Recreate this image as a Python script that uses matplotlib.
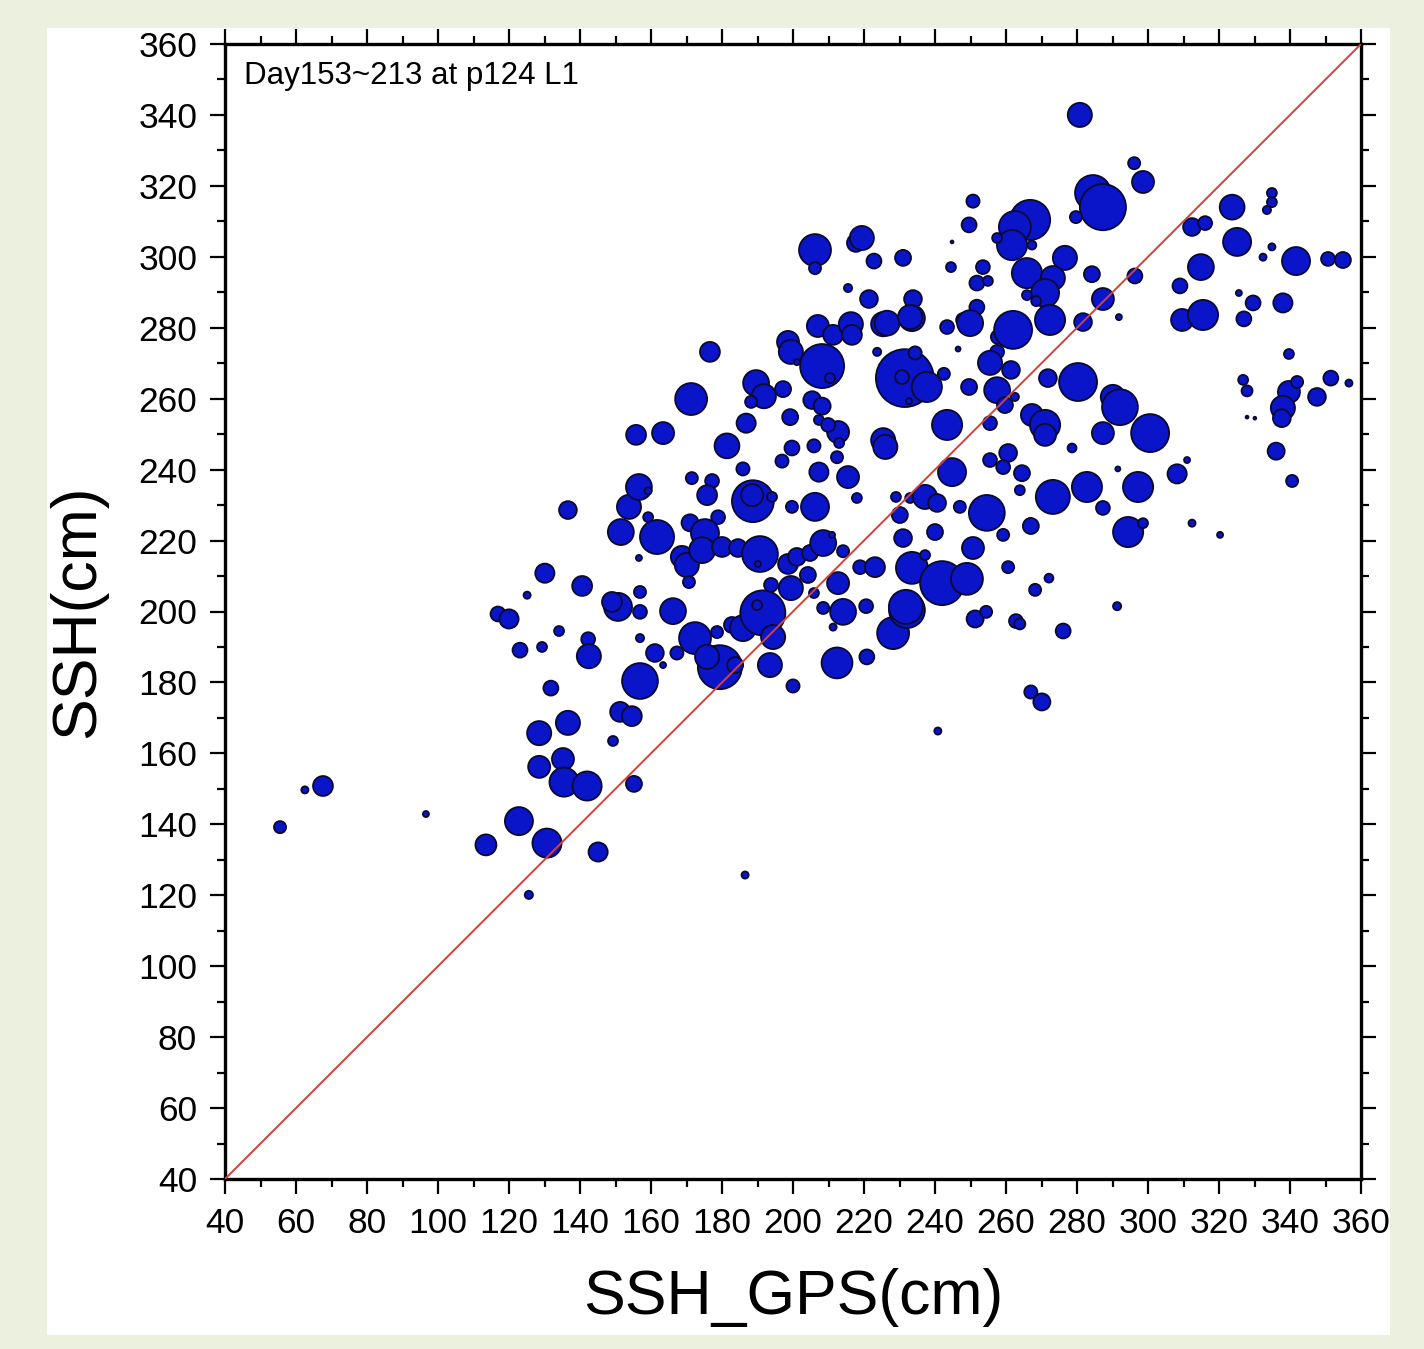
import numpy as np
import matplotlib
matplotlib.use('Agg')
import matplotlib.pyplot as plt
from matplotlib.patches import Rectangle
from matplotlib.ticker import MultipleLocator

plt.rcParams['font.family'] = ['Liberation Sans', 'DejaVu Sans']

# SSH from GPS (cm), model SSH (cm), bubble diameter (cm, in data units)
ssh_gps = [
    55.5, 62.5, 67.6, 96.6, 113.5, 122.8, 130.7, 145.1, 125.6, 186.5,
    116.9, 120.0, 125.1, 130.1, 140.6, 134.1, 142.3, 142.5, 123.1, 129.3,
    131.8, 136.6, 128.5, 149.3, 135.2, 128.5, 135.5, 142.0, 155.2, 136.6,
    151.3, 154.6, 156.9, 150.7, 149.0, 156.9, 156.9, 166.2, 156.9, 161.1,
    167.3, 163.4, 172.4, 178.6, 182.8, 185.9, 191.5, 194.4, 189.9, 179.4,
    175.8, 183.7, 193.5, 200.0, 212.4, 220.8, 228.2, 232.1, 208.5, 214.1,
    220.6, 211.3, 151.5, 159.2, 153.8, 156.6, 159.2, 161.7, 171.0, 178.9,
    175.2, 168.7, 170.1, 174.4, 180.0, 184.5, 190.7, 190.1, 198.6, 201.1,
    204.8, 208.5, 211.0, 214.1, 156.6, 170.7, 193.8, 199.4, 204.2, 205.9,
    218.9, 223.1, 212.7, 188.7, 188.5, 194.1, 199.7, 206.2, 229.0, 171.5,
    177.2, 175.8, 185.9, 196.9, 207.3, 215.5, 218.0, 155.8, 163.4, 181.4,
    186.8, 199.7, 205.9, 212.7, 213.0, 212.4, 225.4, 226.0, 171.3, 189.6,
    191.8, 197.2, 188.2, 205.4, 208.2, 199.2, 207.3, 209.9, 176.6, 198.6,
    199.4, 201.1, 208.2, 210.4, 207.0, 211.3, 216.3, 216.6, 225.4, 223.7,
    206.2, 206.2, 217.7, 219.4, 222.8, 215.5, 221.4, 231.0, 244.8, 244.5,
    250.7, 249.6, 266.8, 262.5, 261.7, 257.5, 267.3, 276.6, 265.9, 253.5,
    251.8, 254.9, 273.2, 284.2, 296.3, 271.0, 265.9, 268.5, 287.3, 233.8,
    233.5, 251.8, 247.9, 249.9, 291.8, 272.4, 281.7, 280.8, 296.1, 298.6,
    284.5, 287.3, 279.7, 226.5, 233.0, 243.4, 257.7, 262.0, 257.5, 255.5,
    261.4, 257.5, 259.7, 262.5, 255.5, 231.5, 230.7, 237.7, 234.4, 242.5,
    232.7, 246.5, 249.6, 243.4, 271.8, 280.3, 290.1, 292.1, 300.6, 287.3,
    278.6, 291.5, 267.3, 271.0, 271.0, 255.5, 260.6, 259.2, 264.5, 263.9,
    244.8, 233.0, 237.2, 240.6, 247.0, 254.6, 266.8, 273.2, 282.8, 287.3,
    297.2, 230.1, 231.0, 240.0, 294.4, 298.6, 312.4, 320.3, 267.0, 259.2,
    250.7, 260.6, 272.1, 268.2, 291.3, 233.5, 242.0, 249.0, 237.2, 231.8,
    251.3, 254.4, 262.8, 263.9, 276.1, 267.0, 270.1, 240.8, 323.7, 334.9,
    334.9, 333.5, 312.4, 316.1, 325.1, 334.9, 332.4, 341.7, 350.7, 354.9,
    314.9, 309.0, 325.6, 329.6, 327.0, 338.0, 309.6, 315.5, 339.7, 326.8,
    327.9, 339.7, 342.0, 338.0, 337.7, 347.6, 351.5, 356.6, 327.9, 330.1,
    336.1, 340.6, 308.2, 311.0,
]
ssh_model = [
    139.2, 149.7, 150.8, 142.9, 134.2, 140.9, 134.7, 132.2, 120.1, 125.7,
    199.3, 197.9, 204.6, 210.8, 207.2, 194.5, 192.2, 187.4, 189.1, 190.0,
    178.4, 168.6, 165.7, 163.5, 158.4, 156.2, 151.9, 150.8, 151.4, 228.6,
    171.7, 170.5, 180.4, 201.3, 202.7, 199.9, 205.5, 200.1, 192.5, 188.3,
    188.3, 184.9, 192.5, 194.2, 196.2, 195.3, 199.6, 192.8, 201.8, 184.3,
    187.2, 184.9, 184.9, 179.0, 185.5, 187.2, 193.9, 200.4, 201.0, 199.9,
    201.5, 195.6, 222.4, 226.6, 229.5, 235.1, 234.0, 221.0, 225.0, 226.6,
    222.1, 215.4, 213.1, 217.3, 218.2, 217.9, 216.2, 213.4, 213.4, 215.4,
    216.5, 219.3, 221.6, 217.0, 215.1, 208.3, 207.5, 206.6, 210.3, 205.2,
    212.5, 212.5, 208.0, 231.1, 232.8, 232.3, 229.5, 229.5, 232.3, 237.6,
    236.8, 232.8, 240.2, 242.4, 239.3, 237.9, 232.0, 249.8, 250.3, 246.7,
    253.1, 246.1, 246.7, 250.6, 247.5, 243.5, 248.3, 246.4, 259.9, 264.4,
    260.7, 262.7, 259.1, 259.6, 257.9, 254.8, 254.0, 252.6, 273.2, 276.0,
    273.2, 270.3, 269.2, 265.8, 280.5, 278.0, 281.0, 278.0, 281.0, 273.2,
    301.9, 296.8, 303.9, 305.3, 298.8, 291.2, 288.1, 299.7, 304.2, 297.1,
    315.7, 309.0, 310.4, 308.4, 303.3, 305.3, 303.3, 299.7, 295.4, 297.1,
    292.6, 293.2, 294.0, 295.1, 294.6, 289.8, 289.2, 287.5, 288.1, 288.1,
    282.7, 285.8, 282.2, 281.3, 283.0, 282.2, 281.6, 340.0, 326.4, 321.1,
    318.0, 314.0, 311.2, 281.3, 283.0, 280.2, 277.4, 279.4, 273.2, 270.1,
    268.1, 262.4, 258.2, 260.5, 253.1, 265.8, 266.1, 263.3, 272.9, 267.0,
    259.3, 274.0, 263.3, 252.6, 265.8, 264.7, 260.5, 257.6, 250.3, 250.3,
    246.1, 240.2, 255.4, 252.6, 249.8, 242.7, 244.7, 240.7, 239.0, 234.2,
    239.3, 232.0, 232.3, 230.6, 229.5, 227.8, 224.9, 232.3, 235.1, 229.2,
    235.1, 227.2, 220.7, 222.4, 222.4, 224.9, 224.9, 221.6, 224.1, 221.6,
    217.9, 212.5, 209.4, 206.1, 201.5, 212.3, 208.0, 209.2, 215.9, 201.3,
    197.9, 199.9, 197.3, 196.5, 194.5, 177.3, 174.5, 166.3, 314.0, 318.0,
    315.4, 313.2, 308.4, 309.5, 304.2, 302.8, 299.9, 298.8, 299.4, 299.1,
    297.1, 291.8, 289.8, 287.0, 282.5, 287.0, 282.2, 283.6, 272.6, 265.3,
    262.2, 261.9, 264.7, 257.4, 254.5, 260.5, 265.8, 264.4, 254.8, 254.5,
    245.2, 236.8, 238.8, 242.7,
]
bubble_size = [
    3.4, 2.0, 5.6, 1.7, 5.9, 7.9, 8.2, 5.4, 2.3, 2.0,
    4.2, 5.4, 2.0, 5.4, 5.6, 2.8, 3.9, 6.8, 4.2, 2.8,
    4.2, 6.8, 6.8, 2.8, 6.2, 6.2, 8.2, 8.2, 4.5, 5.0,
    5.6, 5.6, 10.1, 7.9, 5.6, 3.9, 3.4, 7.3, 2.3, 5.0,
    3.7, 1.7, 9.0, 3.4, 4.5, 7.3, 12.7, 6.8, 2.8, 12.4,
    6.8, 4.5, 6.8, 3.7, 8.7, 4.2, 9.0, 10.1, 3.4, 7.3,
    3.9, 2.0, 7.3, 2.8, 6.8, 7.3, 2.0, 9.6, 4.8, 3.9,
    7.9, 6.2, 6.8, 7.3, 5.6, 5.0, 10.1, 1.7, 5.6, 5.0,
    4.5, 7.3, 1.7, 3.4, 1.7, 3.4, 3.9, 6.8, 4.5, 2.8,
    3.9, 5.6, 6.2, 11.8, 6.2, 2.8, 3.4, 7.9, 2.8, 3.4,
    3.9, 5.6, 3.7, 3.7, 5.4, 6.2, 2.8, 5.6, 6.2, 7.0,
    5.4, 4.2, 3.7, 6.2, 2.8, 3.4, 6.8, 6.8, 9.0, 7.3,
    6.8, 4.5, 3.4, 5.0, 4.8, 4.5, 2.8, 3.9, 5.6, 6.2,
    6.8, 1.7, 12.4, 2.8, 6.2, 5.6, 6.8, 5.6, 6.8, 2.3,
    9.0, 3.4, 5.0, 6.8, 4.2, 2.3, 5.0, 4.5, 0.8, 2.8,
    3.7, 4.2, 11.3, 9.0, 8.5, 2.8, 2.5, 6.8, 8.5, 3.9,
    4.2, 2.8, 6.8, 4.5, 4.2, 7.9, 2.8, 2.8, 6.2, 5.0,
    7.3, 4.2, 3.9, 7.3, 1.7, 8.5, 5.0, 6.8, 3.4, 6.2,
    10.1, 13.0, 3.4, 7.0, 6.8, 3.9, 3.9, 10.7, 3.9, 6.8,
    5.0, 7.3, 4.5, 2.3, 3.9, 16.3, 3.9, 8.5, 3.7, 3.4,
    1.7, 1.4, 4.5, 8.5, 5.0, 10.7, 6.8, 10.1, 10.7, 6.2,
    2.5, 1.4, 6.2, 8.5, 6.2, 3.9, 5.0, 3.9, 4.5, 2.8,
    7.9, 2.8, 6.8, 5.0, 3.4, 10.1, 2.8, 9.6, 8.5, 3.9,
    8.5, 4.5, 5.0, 4.5, 8.5, 2.8, 2.0, 1.7, 4.5, 3.4,
    6.2, 3.4, 2.5, 3.4, 2.3, 9.0, 12.4, 9.0, 2.8, 9.6,
    4.8, 3.4, 3.9, 3.1, 4.2, 3.7, 4.8, 2.0, 7.0, 2.8,
    2.8, 2.3, 5.0, 3.9, 7.9, 2.0, 2.0, 7.9, 3.9, 4.5,
    7.3, 4.2, 1.7, 4.2, 4.2, 5.4, 6.2, 8.5, 2.8, 2.8,
    3.1, 6.2, 3.4, 6.8, 5.0, 5.0, 4.2, 2.0, 0.8, 0.8,
    4.8, 3.4, 5.4, 1.7,
]

axis_min, axis_max = 40, 360
annotation = 'Day153~213 at p124 L1'

fig = plt.figure(figsize=(14.24, 13.49), dpi=100, facecolor='#ecf0de')
# white page behind the plot
fig.add_artist(Rectangle((47/1424, 1 - 1335/1349), (1390-47)/1424, (1335-28)/1349,
                         transform=fig.transFigure, facecolor='white',
                         edgecolor='none', zorder=-10))
ax = fig.add_axes([225/1424, 1 - 1179/1349, (1361-225)/1424, (1179-44)/1349])
ax.set_zorder(1)
ax.patch.set_alpha(0)
ax.set_xlim(axis_min, axis_max)
ax.set_ylim(axis_min, axis_max)

# bubble diameters given in cm -> points^2 for scatter
ppu = ax.get_position().width * fig.get_figwidth() * 72 / (axis_max - axis_min)
sizes = (np.array(bubble_size) * ppu) ** 2

ax.scatter(ssh_gps, ssh_model, s=sizes, facecolor='#0a14c8', edgecolor='#0a0a30',
           linewidth=1.3, zorder=2)
ax.plot([axis_min, axis_max], [axis_min, axis_max], color='#d2423c', linewidth=1.4, zorder=3)

ax.xaxis.set_major_locator(MultipleLocator(20))
ax.xaxis.set_minor_locator(MultipleLocator(10))
ax.yaxis.set_major_locator(MultipleLocator(20))
ax.yaxis.set_minor_locator(MultipleLocator(10))
ax.tick_params(which='both', direction='out', top=True, right=True, width=1.6, color='black')
ax.tick_params(which='major', length=11, labelsize=25.5, pad=9)
ax.tick_params(which='minor', length=5.5)
for sp in ax.spines.values():
    sp.set_linewidth(2.4)

ax.text(0.017, 0.985, annotation, transform=ax.transAxes, fontsize=22.5,
        ha='left', va='top')
ax.set_xlabel('SSH_GPS(cm)', fontsize=45)
ax.set_ylabel('SSH(cm)', fontsize=45)
ax.xaxis.set_label_coords(0.5, -0.078)
ax.yaxis.set_label_coords(-0.104, 0.5)

fig.savefig('out.png', dpi=100, facecolor=fig.get_facecolor())
